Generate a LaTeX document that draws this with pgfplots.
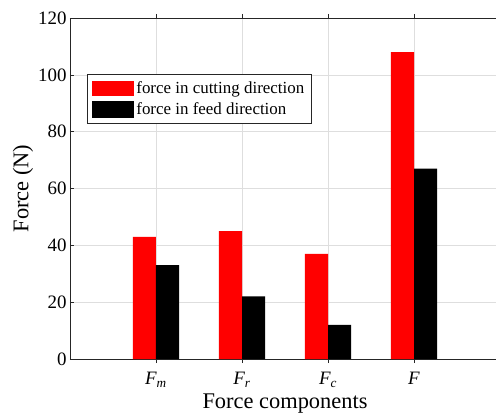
\documentclass[border=0pt]{standalone}
\usepackage{fontspec}
\setmainfont{Liberation Serif}
\usepackage{pgfplots}
\pgfplotsset{compat=1.18}
\definecolor{axgray}{RGB}{38,38,38}
\definecolor{gridgray}{RGB}{222,222,222}
\begin{document}
\begin{tikzpicture}
\begin{axis}[
  scale only axis,
  width=430bp, height=341bp,
  xmin=0, xmax=5, ymin=0, ymax=120,
  xtick={1,2,3,4},
  xticklabels={{\itshape F\textsubscript{m}},{\itshape F\textsubscript{r}},{\itshape F\textsubscript{c}},{\itshape F}},
  ytick={0,20,40,60,80,100,120},
  yticklabels={0,20,40,60,80,100,120},
  ticklabel style={font=\rmfamily\fontsize{19}{21}\selectfont},
  xticklabel style={yshift=-6bp},
  tick align=inside,
  tick pos=both,
  major tick length=4bp,
  tick style={axgray, line width=0.6pt},
  axis line style={axgray, line width=0.8pt},
  xmajorgrids, ymajorgrids,
  grid style={gridgray, line width=0.5pt},
  xlabel={Force components},
  ylabel={Force (N)},
  label style={font=\rmfamily\fontsize{22.5}{24}\selectfont},
  xlabel style={yshift=1bp},
  ylabel style={yshift=-2bp},
  legend style={at={(0.0395,0.836)}, anchor=north west, draw=axgray, line width=0.8pt,
    font=\rmfamily\fontsize{17}{19}\selectfont, row sep=4bp, inner xsep=5bp, inner ysep=5bp,
    nodes={inner sep=2bp}, cells={anchor=west}},
  ybar, bar width=0.27,
]
\addplot[fill=red, draw=none, bar shift=-0.135,
  legend image code/.code={\fill[red] (0bp,-7.5bp) rectangle (42bp,7.5bp);}]
  coordinates {(1,43) (2,45) (3,37) (4,108)};
\addplot[fill=black, draw=none, bar shift=0.135,
  legend image code/.code={\fill[black] (0bp,-8.5bp) rectangle (42bp,8.5bp);}]
  coordinates {(1,33) (2,22) (3,12) (4,67)};
\legend{force in cutting direction, force in feed direction}
\end{axis}
\pgfresetboundingbox
\path ([xshift=-70bp,yshift=-54bp]current axis.south west) rectangle ([xshift=-4bp,yshift=18bp]current axis.north east);
\end{tikzpicture}
\end{document}
